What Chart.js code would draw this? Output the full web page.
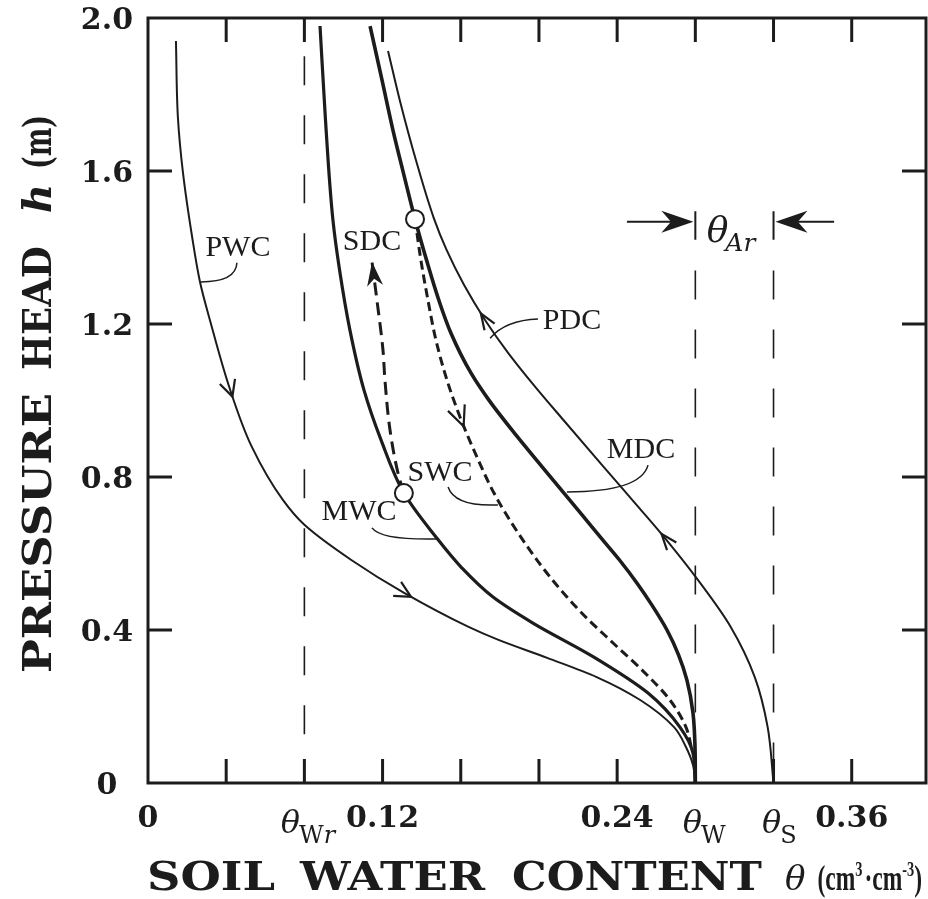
<!DOCTYPE html>
<html lang="en">
<head>
  <meta charset="UTF-8" />
  <title>Soil water hysteresis curves</title>
  <script src="https://cdn.jsdelivr.net/npm/chart.js@4.4.1/dist/chart.umd.min.js"></script>
  <style>
    body { margin: 0; background: #fff; }
    canvas { display: block; }
  </style>
</head>
<body>
  <canvas id="chart" width="928" height="899"></canvas>

  <script>
    // axis ticks
    const xTickValues = [0, 0.04, 0.08, 0.12, 0.16, 0.20, 0.24, 0.28, 0.32, 0.36];
    const xTickLabels = ['0', '', '', '0.12', '', '', '0.24', '', '', '0.36'];
    const yTickValues = [0, 0.4, 0.8, 1.2, 1.6, 2.0];
    const yTickLabels = ['0', '0.4', '0.8', '1.2', '1.6', '2.0'];

    // characteristic water contents (theta_Wr, theta_W, theta_S)
    const refTheta = [0.08, 0.28, 0.32];
    const refTop = [1.90, 1.34, 1.34];
    const refBottom = [0.12, 0, 0];

    // primary wetting curve
    const pwcTheta = [0.0143, 0.0153, 0.0179, 0.0225, 0.0266, 0.0317, 0.0419, 0.053, 0.069, 0.080, 0.104, 0.131, 0.164, 0.1793, 0.2042, 0.2295, 0.2518, 0.2691, 0.2752, 0.2788, 0.280];
    const pwcHead  = [1.94, 1.74, 1.595, 1.43, 1.31, 1.21, 1.03, 0.88, 0.74, 0.675, 0.583, 0.497, 0.408, 0.374, 0.327, 0.277, 0.217, 0.146, 0.094, 0.047, 0];

    // main wetting curve
    const mwcTheta = [0.088, 0.0908, 0.0946, 0.098, 0.1033, 0.1105, 0.1192, 0.1309, 0.1473, 0.1606, 0.1765, 0.1969, 0.2281, 0.2558, 0.2721, 0.2788, 0.280];
    const mwcHead  = [1.979, 1.733, 1.472, 1.341, 1.184, 1.027, 0.897, 0.758, 0.643, 0.562, 0.486, 0.418, 0.329, 0.235, 0.146, 0.078, 0];

    // main drying curve
    const mdcTheta = [0.1136, 0.1197, 0.1253, 0.1309, 0.1366, 0.1425, 0.1488, 0.155, 0.1652, 0.1744, 0.1882, 0.203, 0.2212, 0.2327, 0.2412, 0.2501, 0.2578, 0.2655, 0.2714, 0.2757, 0.2788, 0.2799, 0.280];
    const mdcHead  = [1.979, 1.838, 1.707, 1.590, 1.474, 1.367, 1.262, 1.176, 1.072, 1.001, 0.910, 0.818, 0.706, 0.635, 0.583, 0.523, 0.465, 0.40, 0.335, 0.269, 0.183, 0.078, 0];

    // primary drying curve
    const pdcTheta = [0.1228, 0.1289, 0.1372, 0.1462, 0.1528, 0.1617, 0.1725, 0.1843, 0.1982, 0.2125, 0.2332, 0.2508, 0.2653, 0.2813, 0.2981, 0.3104, 0.317, 0.320];
    const pdcHead  = [1.914, 1.783, 1.626, 1.477, 1.393, 1.302, 1.210, 1.124, 1.035, 0.949, 0.826, 0.722, 0.635, 0.531, 0.408, 0.277, 0.146, 0];

    // scanning drying curve (starts on MWC)
    const sdcTheta = [0.1309, 0.1279, 0.1238, 0.1212, 0.1202, 0.1171, 0.1146];
    const sdcHead  = [0.758, 0.81, 0.923, 1.054, 1.132, 1.263, 1.362];

    // scanning wetting curve (starts on MDC)
    const swcTheta = [0.1366, 0.1396, 0.1432, 0.1473, 0.1529, 0.1596, 0.1683, 0.177, 0.1893, 0.2056, 0.222, 0.2379, 0.2542, 0.267, 0.2752, 0.2783];
    const swcHead  = [1.474, 1.367, 1.263, 1.158, 1.054, 0.957, 0.852, 0.758, 0.654, 0.539, 0.444, 0.366, 0.288, 0.217, 0.146, 0.086];

    const ink = '#1c1c1c';
    const pts = (xs, ys) => xs.map((v, i) => ({ x: v, y: ys[i] }));
    const curves = {
      pwc: pts(pwcTheta, pwcHead),
      mwc: pts(mwcTheta, mwcHead),
      mdc: pts(mdcTheta, mdcHead),
      pdc: pts(pdcTheta, pdcHead),
      sdc: pts(sdcTheta, sdcHead),
      swc: pts(swcTheta, swcHead)
    };

    // curves are single valued in h, so interpolate along the y axis
    const curve = (data, width, dash) => ({
      data, showLine: true, pointRadius: 0, borderColor: ink, borderWidth: width,
      borderDash: dash || [], indexAxis: 'y', cubicInterpolationMode: 'monotone',
      fill: false, order: 1
    });

    const datasets = [
      // turning points
      {
        data: [curves.sdc[0], curves.swc[0]], showLine: false, pointRadius: 9,
        pointBackgroundColor: '#fff', pointBorderColor: ink, pointBorderWidth: 2, order: 0
      },
      curve(curves.pwc, 2),
      curve(curves.mwc, 3.2),
      curve(curves.mdc, 3.6),
      curve(curves.pdc, 2),
      curve(curves.sdc, 3, [13, 7]),
      curve(curves.swc, 3, [9, 5])
    ];
    refTheta.forEach((t, i) => {
      datasets.push({
        data: [{ x: t, y: refTop[i] }, { x: t, y: refBottom[i] }],
        showLine: true, pointRadius: 0, borderColor: ink, borderWidth: 1.6,
        borderDash: [29, 30], order: 2
      });
    });

    // arrows along curves: point index, travel direction
    const arrows = [
      { c: 'pwc', i: 6, s: 1, len: 16, half: 8 },
      { c: 'pwc', i: 11, s: 1, len: 16, half: 8 },
      { c: 'pdc', i: 6, s: -1, len: 16, half: 6 },
      { c: 'pdc', i: 12, s: -1, len: 16, half: 6 },
      { c: 'swc', i: 5, s: 1, len: 20, half: 9 },
      { c: 'sdc', i: 6, s: 1, len: 24, half: 8, filled: true, atTip: true }
    ];

    const curveLabels = [
      { t: 'PWC', x: 0.046, y: 1.399 },
      { t: 'SDC', x: 0.1146, y: 1.414 },
      { t: 'PDC', x: 0.2169, y: 1.208 },
      { t: 'MDC', x: 0.2522, y: 0.8706 },
      { t: 'SWC', x: 0.1494, y: 0.81 },
      { t: 'MWC', x: 0.108, y: 0.7085 }
    ];
    // leader lines: from, control, to
    const leaders = [
      [[0.0455, 1.36], [0.045, 1.31], [0.027, 1.31]],
      [[0.1995, 1.213], [0.183, 1.21], [0.175, 1.163]],
      [[0.2558, 0.831], [0.252, 0.761], [0.2143, 0.761]],
      [[0.1535, 0.774], [0.157, 0.722], [0.179, 0.727]],
      [[0.1146, 0.667], [0.119, 0.635], [0.1478, 0.638]]
    ];

    // draw text runs left to right; a run with w is squeezed/stretched to that width
    function drawRuns(ctx, runs, x, y) {
      let cx = x;
      runs.forEach(r => {
        ctx.font = r.font;
        ctx.letterSpacing = r.ls || '0px';
        const nat = ctx.measureText(r.t).width;
        const w = r.w || nat;
        ctx.save();
        ctx.translate(cx, y + (r.dy || 0));
        ctx.scale(w / nat, 1);
        ctx.fillText(r.t, 0, 0);
        ctx.restore();
        cx += w + (r.gap || 0);
      });
      ctx.letterSpacing = '0px';
      return cx;
    }
    function runsWidth(ctx, runs) {
      let w = 0;
      runs.forEach(r => {
        ctx.font = r.font;
        ctx.letterSpacing = r.ls || '0px';
        w += (r.w || ctx.measureText(r.t).width) + (r.gap || 0);
      });
      ctx.letterSpacing = '0px';
      return w;
    }

    function chevron(ctx, tip, d, len, half, filled) {
      const n = { x: -d.y, y: d.x };
      const bx = tip.x - d.x * len, by = tip.y - d.y * len;
      ctx.beginPath();
      if (filled) {
        ctx.moveTo(tip.x, tip.y);
        ctx.lineTo(bx + n.x * half, by + n.y * half);
        ctx.lineTo(tip.x - d.x * len * 0.7, tip.y - d.y * len * 0.7);
        ctx.lineTo(bx - n.x * half, by - n.y * half);
        ctx.closePath();
        ctx.fill();
      } else {
        ctx.moveTo(bx + n.x * half, by + n.y * half);
        ctx.lineTo(tip.x, tip.y);
        ctx.lineTo(bx - n.x * half, by - n.y * half);
        ctx.stroke();
      }
    }

    const decor = {
      id: 'decor',
      beforeDatasetsDraw(chart) {
        const { ctx, chartArea: a, scales: { x, y } } = chart;
        const tickLen = 24;
        ctx.save();
        ctx.strokeStyle = ink;
        ctx.lineWidth = 3;
        ctx.strokeRect(a.left, a.top, a.right - a.left, a.bottom - a.top);
        ctx.beginPath();
        xTickValues.slice(1).forEach(v => {
          const px = x.getPixelForValue(v);
          ctx.moveTo(px, a.top); ctx.lineTo(px, a.top + tickLen);
          ctx.moveTo(px, a.bottom); ctx.lineTo(px, a.bottom - tickLen);
        });
        yTickValues.slice(1, -1).forEach(v => {
          const py = y.getPixelForValue(v);
          ctx.moveTo(a.left, py); ctx.lineTo(a.left + tickLen, py);
          ctx.moveTo(a.right, py); ctx.lineTo(a.right - tickLen, py);
        });
        ctx.stroke();
        ctx.restore();
      },
      afterDatasetsDraw(chart) {
        const { ctx, scales: { x, y } } = chart;
        const P = (t, h) => ({ x: x.getPixelForValue(t), y: y.getPixelForValue(h) });
        ctx.save();
        ctx.strokeStyle = ink;
        ctx.fillStyle = ink;

        // direction arrows on the curves
        ctx.lineWidth = 2.2;
        arrows.forEach(a => {
          const c = curves[a.c];
          const p = P(c[a.i].x, c[a.i].y);
          const i0 = Math.max(a.i - 1, 0), i1 = Math.min(a.i + 1, c.length - 1);
          const p0 = P(c[i0].x, c[i0].y), p1 = P(c[i1].x, c[i1].y);
          const dx = (p1.x - p0.x) * a.s, dy = (p1.y - p0.y) * a.s;
          const m = Math.hypot(dx, dy);
          const d = { x: dx / m, y: dy / m };
          const tip = a.atTip ? p : { x: p.x + d.x * a.len / 2, y: p.y + d.y * a.len / 2 };
          chevron(ctx, tip, d, a.len, a.half, a.filled);
        });

        // theta_Ar bracket
        const hA = 1.467;
        ctx.lineWidth = 2;
        ctx.beginPath();
        [0.28, 0.32].forEach(t => {
          const b = P(t, 1.495), e = P(t, 1.42);
          ctx.moveTo(b.x, b.y); ctx.lineTo(e.x, e.y);
        });
        const l0 = P(0.245, hA), l1 = P(0.279, hA), r0 = P(0.351, hA), r1 = P(0.321, hA);
        ctx.moveTo(l0.x, l0.y); ctx.lineTo(l1.x - 10, l1.y);
        ctx.moveTo(r0.x, r0.y); ctx.lineTo(r1.x + 10, r1.y);
        ctx.stroke();
        chevron(ctx, l1, { x: 1, y: 0 }, 32, 11, true);
        chevron(ctx, r1, { x: -1, y: 0 }, 32, 11, true);
        const lab = P(0.2858, 1.414);
        ctx.textBaseline = 'alphabetic';
        drawRuns(ctx, [
          { t: 'θ', font: 'italic 36px "DejaVu Serif"', gap: -3 },
          { t: 'Ar', font: 'italic 25px "DejaVu Serif"', dy: 9 }
        ], lab.x, lab.y);

        // curve names and leader lines
        ctx.font = '30px "Liberation Serif"';
        ctx.textAlign = 'center';
        ctx.textBaseline = 'middle';
        curveLabels.forEach(l => {
          const p = P(l.x, l.y);
          ctx.fillText(l.t, p.x, p.y);
        });
        ctx.lineWidth = 1.5;
        leaders.forEach(([f, c, t]) => {
          const a = P(f[0], f[1]), b = P(c[0], c[1]), e = P(t[0], t[1]);
          ctx.beginPath();
          ctx.moveTo(a.x, a.y);
          ctx.quadraticCurveTo(b.x, b.y, e.x, e.y);
          ctx.stroke();
        });
        ctx.restore();
      },
      afterDraw(chart) {
        const { ctx, chartArea: a, scales: { x } } = chart;
        ctx.save();
        ctx.fillStyle = ink;
        ctx.textAlign = 'left';
        ctx.textBaseline = 'alphabetic';

        // theta tick labels with subscripts
        const thetaTicks = [
          { v: 0.08, sub: [{ t: 'W', it: false }, { t: 'r', it: true }], dx: -14 },
          { v: 0.28, sub: [{ t: 'W', it: false }], dx: -3 },
          { v: 0.32, sub: [{ t: 'S', it: false }], dx: -2 }
        ];
        thetaTicks.forEach(tk => {
          ctx.font = 'italic 32px "DejaVu Serif"';
          const w = ctx.measureText('θ').width;
          const x0 = x.getPixelForValue(tk.v) + tk.dx - w / 2;
          const runs = [{ t: 'θ', font: 'italic 32px "DejaVu Serif"', gap: -1 }];
          tk.sub.forEach(s => runs.push({ t: s.t, font: (s.it ? 'italic ' : '') + '24px "DejaVu Serif"', dy: 10 }));
          drawRuns(ctx, runs, x0, 833);
        });

        // x axis title
        const bold = 'bold 39px "DejaVu Serif"';
        const unit = 'bold 36px "Liberation Serif"';
        const sup = 'bold 22px "Liberation Serif"';
        const end = drawRuns(ctx, [
          { t: 'SOIL', font: bold, w: 128, gap: 25 },
          { t: 'WATER', font: bold, w: 185, gap: 27 },
          { t: 'CONTENT', font: bold, w: 250, gap: 23 },
          { t: 'θ', font: 'italic 34px "DejaVu Serif"', gap: 12 }
        ], a.left - 1, 890);
        const unitRuns = [
          { t: '(cm', font: unit },
          { t: '3', font: sup, dy: -14, gap: 3 },
          { t: '·cm', font: unit },
          { t: '-3', font: sup, dy: -14 },
          { t: ')', font: unit }
        ];
        const uw = runsWidth(ctx, unitRuns);
        ctx.save();
        ctx.translate(end, 890);
        ctx.scale(Math.min(1, (922 - end) / uw), 1);
        drawRuns(ctx, unitRuns, 0, 0);
        ctx.restore();

        // y axis title
        const yb = 'bold 40px "DejaVu Serif"';
        const yRuns = [
          { t: 'PRESSURE', font: yb, w: 280, gap: 23 },
          { t: 'HEAD', font: yb, w: 124, gap: 33 },
          { t: 'h', font: 'bold italic 40px "DejaVu Serif"', gap: 15 },
          { t: '(m)', font: yb, w: 54 }
        ];
        const yw = runsWidth(ctx, yRuns);
        ctx.translate(37, 394);
        ctx.rotate(-Math.PI / 2);
        drawRuns(ctx, yRuns, -yw / 2, 14);
        ctx.restore();
      }
    };

    const tickFont = { family: 'DejaVu Serif', weight: 'bold', size: 30 };
    const noPad = s => { s.paddingLeft = 0; s.paddingRight = 0; s.paddingTop = 0; s.paddingBottom = 0; };

    new Chart(document.getElementById('chart'), {
      type: 'scatter',
      data: { datasets },
      plugins: [decor],
      options: {
        responsive: false,
        animation: false,
        layout: { autoPadding: false, padding: { top: 18, right: 2, left: 0, bottom: 0 } },
        plugins: { legend: { display: false }, tooltip: { enabled: false } },
        scales: {
          x: {
            type: 'linear', min: 0, max: 0.398,
            grid: { display: false, drawTicks: false },
            border: { display: false },
            afterBuildTicks: s => { s.ticks = xTickValues.map(v => ({ value: v })); },
            afterFit: s => { s.height = 116; noPad(s); },
            ticks: {
              autoSkip: false, maxRotation: 0, padding: 18, color: ink, font: tickFont,
              callback: (v, i) => xTickLabels[i]
            }
          },
          y: {
            type: 'linear', min: 0, max: 2,
            grid: { display: false, drawTicks: false },
            border: { display: false },
            afterBuildTicks: s => { s.ticks = yTickValues.map(v => ({ value: v })); },
            afterFit: s => { s.width = 148; noPad(s); },
            ticks: {
              padding: 15, crossAlign: 'center', labelOffset: 3, color: ink, font: tickFont,
              callback: (v, i) => yTickLabels[i]
            }
          }
        }
      }
    });
  </script>
</body>
</html>
